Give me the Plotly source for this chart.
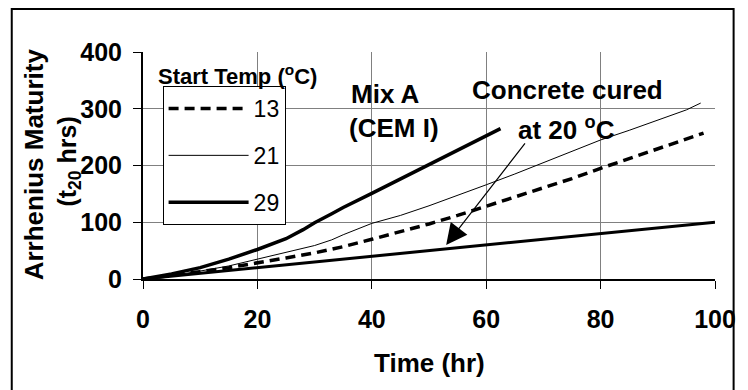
import plotly.graph_objects as go

# ---- data ----
time_13 = [0, 5, 10, 15, 20, 25, 30, 35, 40, 45, 50, 55, 60, 65, 70, 75, 80, 85, 90, 95, 98]
mat_13 = [0, 6, 13, 20, 28, 37, 46, 57, 70, 83, 97, 112, 128, 144, 160, 177, 195, 212, 229, 246, 257]

time_21 = [0, 5, 10, 15, 20, 25, 30, 33, 35, 40, 45, 50, 55, 60, 65, 70, 75, 80, 85, 90, 95, 97.5]
mat_21 = [0, 6, 14, 23, 35, 47, 59, 69, 78, 98, 112, 129, 147, 166, 185, 205, 225, 245, 262, 280, 298, 310]

time_29 = [0, 5, 10, 15, 20, 25, 28, 30, 33, 35, 40, 45, 50, 55, 60, 62.5]
mat_29 = [0, 9, 20, 35, 52, 71, 87, 99, 115, 126, 151, 176, 201, 226, 252, 265]

time_cured = [0, 100]
mat_cured = [0, 100]

series_names = ["13", "21", "29"]
x_ticks = [0, 20, 40, 60, 80, 100]
y_ticks = [0, 100, 200, 300, 400]

FONT = "Liberation Sans, Arial, sans-serif"

fig = go.Figure()
fig.add_trace(go.Scatter(x=time_cured, y=mat_cured, mode="lines", showlegend=False,
                         line=dict(color="black", width=3)))
fig.add_trace(go.Scatter(x=time_13, y=mat_13, mode="lines", name=series_names[0], legendgroup="a",
                         line=dict(color="black", width=3.5, dash="10px,6px")))
fig.add_trace(go.Scatter(x=time_21, y=mat_21, mode="lines", name=series_names[1], legendgroup="b",
                         line=dict(color="black", width=1)))
fig.add_trace(go.Scatter(x=time_29, y=mat_29, mode="lines", name=series_names[2], legendgroup="c",
                         line=dict(color="black", width=3.5)))

L, R, T, B = 143, 21, 52, 111
W, H = 748, 390
pw, ph = W - L - R, H - T - B

def px(x):
    return (x - L) / pw

def py(y):
    return (H - B - y) / ph

fig.update_layout(
    width=W, height=H,
    margin=dict(l=L, r=R, t=T, b=B),
    paper_bgcolor="white", plot_bgcolor="white",
    font=dict(family=FONT, color="black"),
    showlegend=True,
    legend=dict(x=px(163), y=py(86), xanchor="left", yanchor="top",
                bordercolor="black", borderwidth=1, bgcolor="white",
                font=dict(size=23, family=FONT), itemwidth=80,
                tracegroupgap=14, traceorder="grouped"),
    xaxis=dict(range=[0, 100], tickvals=x_ticks, showgrid=True, gridcolor="#808080", gridwidth=1,
               showline=True, linecolor="black", linewidth=2, ticks="outside", ticklen=8,
               tickcolor="black", tickwidth=1, zeroline=False,
               tickfont=dict(size=25, family=FONT, weight="bold"), ticklabelstandoff=9),
    yaxis=dict(range=[0, 400], tickvals=y_ticks, showgrid=True, gridcolor="#808080", gridwidth=1,
               showline=True, linecolor="black", linewidth=2, ticks="outside", ticklen=8,
               tickcolor="black", tickwidth=1, zeroline=False,
               tickfont=dict(size=25, family=FONT, weight="bold"), ticklabelstandoff=6),
)

bold = dict(size=26, family=FONT, weight="bold", color="black")
annos = [
    dict(text="Time (hr)", x=px(436), y=py(363), font=bold),
    dict(text="Arrhenius Maturity", x=px(32), y=py(164), textangle=-90, font=bold),
    dict(text="(t<sub>20</sub> hrs)", x=px(67), y=py(162), textangle=-90, font=dict(size=25, family=FONT, weight="bold")),
    dict(text="Start Temp (<sup>o</sup>C)", x=px(239), y=py(75), font=dict(size=22, family=FONT, weight="bold")),
    dict(text="Mix A", x=px(353), y=py(94), xanchor="left", font=bold),
    dict(text="(CEM I)", x=px(351), y=py(128), xanchor="left", font=bold),
    dict(text="Concrete cured", x=px(576), y=py(90), font=bold),
    dict(text="at 20 <sup>o</sup>C", x=px(575), y=py(128), font=bold),
]
for a in annos:
    fig.add_annotation(xref="paper", yref="paper", showarrow=False, xanchor=a.pop("xanchor", "center"),
                       yanchor="middle", **a)

# arrow pointing to the concrete cured line
fig.add_annotation(x=53, y=60, xref="x", yref="y", text="", showarrow=True,
                   ax=80, ay=-103, arrowhead=2, arrowsize=3.5, arrowwidth=1.2, arrowcolor="black")

# outer frame
fig.add_shape(type="rect", xref="paper", yref="paper", x0=px(9), x1=px(746), y0=py(9), y1=py(400),
              line=dict(color="black", width=2), layer="below")

fig.write_html("out.html")
